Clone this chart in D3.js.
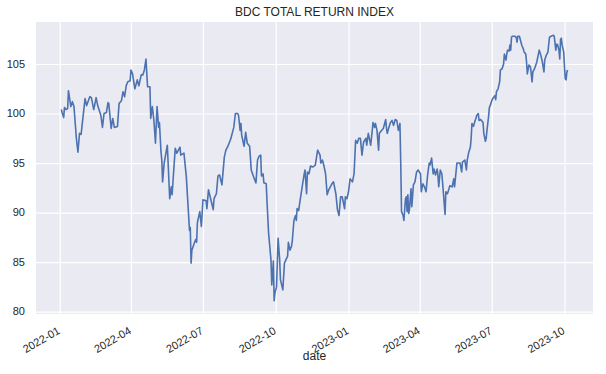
<!DOCTYPE html>
<html>
<head>
<meta charset="utf-8">
<script src="https://cdn.jsdelivr.net/npm/d3@7"></script>
<style>
  body { margin: 0; background: #fff; }
  text { font-family: "Liberation Sans", Arial, sans-serif; fill: #262626; }
</style>
</head>
<body>
<div id="chart"></div>
<script>
// data
var title = "BDC TOTAL RETURN INDEX";
var xLabel = "date";

var dates = [
  "2022-01-03","2022-01-04","2022-01-06","2022-01-07","2022-01-09","2022-01-11","2022-01-12","2022-01-15","2022-01-17","2022-01-19",
  "2022-01-22","2022-01-24","2022-01-26","2022-01-28","2022-02-02","2022-02-04","2022-02-08","2022-02-10","2022-02-13","2022-02-16",
  "2022-02-18","2022-02-22","2022-02-24","2022-02-26","2022-03-01","2022-03-03","2022-03-04","2022-03-07","2022-03-09","2022-03-11",
  "2022-03-15","2022-03-17","2022-03-20","2022-03-22","2022-03-24","2022-03-26","2022-03-28","2022-03-31","2022-04-01","2022-04-03",
  "2022-04-06","2022-04-09","2022-04-11","2022-04-14","2022-04-16","2022-04-18","2022-04-20","2022-04-22","2022-04-25","2022-04-26",
  "2022-04-28","2022-04-30","2022-05-02","2022-05-04","2022-05-06","2022-05-07","2022-05-09","2022-05-10","2022-05-11","2022-05-13",
  "2022-05-17","2022-05-20","2022-05-22","2022-05-23","2022-05-27","2022-05-29","2022-06-02","2022-06-03","2022-06-07","2022-06-10",
  "2022-06-12","2022-06-14","2022-06-15","2022-06-16","2022-06-17","2022-06-20","2022-06-22","2022-06-23","2022-06-24","2022-06-27",
  "2022-06-29","2022-07-01","2022-07-05","2022-07-06","2022-07-08","2022-07-11","2022-07-14","2022-07-15","2022-07-18","2022-07-20",
  "2022-07-22","2022-07-25","2022-07-28","2022-07-30","2022-08-01","2022-08-03","2022-08-05","2022-08-07","2022-08-09","2022-08-11",
  "2022-08-14","2022-08-15","2022-08-17","2022-08-18","2022-08-19","2022-08-22","2022-08-24","2022-08-26","2022-08-29","2022-08-30",
  "2022-08-31","2022-09-04","2022-09-06","2022-09-08","2022-09-10","2022-09-12","2022-09-13","2022-09-15","2022-09-16","2022-09-19",
  "2022-09-20","2022-09-22","2022-09-25","2022-09-26","2022-09-28","2022-09-29","2022-09-30","2022-10-02","2022-10-04","2022-10-06",
  "2022-10-07","2022-10-10","2022-10-12","2022-10-16","2022-10-17","2022-10-19","2022-10-21","2022-10-22","2022-10-24","2022-10-26",
  "2022-10-27","2022-10-28","2022-10-30","2022-10-31","2022-11-04","2022-11-06","2022-11-07","2022-11-09","2022-11-10","2022-11-12",
  "2022-11-14","2022-11-17","2022-11-20","2022-11-22","2022-11-23","2022-11-26","2022-11-27","2022-11-29","2022-12-01","2022-12-03",
  "2022-12-05","2022-12-07","2022-12-09","2022-12-11","2022-12-13","2022-12-16","2022-12-18","2022-12-20","2022-12-22","2022-12-24",
  "2022-12-27","2022-12-28","2022-12-30","2023-01-01","2023-01-03","2023-01-06","2023-01-08","2023-01-10","2023-01-12","2023-01-14",
  "2023-01-16","2023-01-18","2023-01-20","2023-01-23","2023-01-24","2023-01-26","2023-01-29","2023-01-31","2023-02-01","2023-02-03",
  "2023-02-04","2023-02-06","2023-02-08","2023-02-09","2023-02-12","2023-02-14","2023-02-17","2023-02-18","2023-02-19","2023-02-21",
  "2023-02-23","2023-02-25","2023-02-27","2023-03-01","2023-03-03","2023-03-05","2023-03-07","2023-03-08","2023-03-09","2023-03-11",
  "2023-03-12","2023-03-14","2023-03-15","2023-03-16","2023-03-17","2023-03-18","2023-03-19","2023-03-21","2023-03-22","2023-03-24",
  "2023-03-26","2023-03-28","2023-03-30","2023-04-02","2023-04-03","2023-04-05","2023-04-07","2023-04-09","2023-04-11","2023-04-13",
  "2023-04-14","2023-04-16","2023-04-18","2023-04-19","2023-04-21","2023-04-23","2023-04-24","2023-04-25","2023-04-27","2023-04-29",
  "2023-05-01","2023-05-03","2023-05-04","2023-05-06","2023-05-08","2023-05-09","2023-05-12","2023-05-14","2023-05-15","2023-05-18",
  "2023-05-20","2023-05-22","2023-05-24","2023-05-25","2023-05-28","2023-05-30","2023-05-31","2023-06-02","2023-06-04","2023-06-05",
  "2023-06-06","2023-06-08","2023-06-10","2023-06-11","2023-06-12","2023-06-14","2023-06-15","2023-06-17","2023-06-20","2023-06-21",
  "2023-06-23","2023-06-24","2023-06-25","2023-06-27","2023-06-28","2023-06-30","2023-07-01","2023-07-03","2023-07-05","2023-07-06",
  "2023-07-07","2023-07-09","2023-07-11","2023-07-12","2023-07-14","2023-07-16","2023-07-17","2023-07-19","2023-07-20","2023-07-21",
  "2023-07-23","2023-07-24","2023-07-25","2023-07-26","2023-07-27","2023-07-30","2023-08-01","2023-08-02","2023-08-03","2023-08-05",
  "2023-08-06","2023-08-08","2023-08-10","2023-08-11","2023-08-13","2023-08-14","2023-08-15","2023-08-17","2023-08-19","2023-08-21",
  "2023-08-22","2023-08-24","2023-08-27","2023-08-29","2023-08-30","2023-09-01","2023-09-03","2023-09-05","2023-09-06","2023-09-08",
  "2023-09-10","2023-09-12","2023-09-14","2023-09-17","2023-09-18","2023-09-20","2023-09-21","2023-09-22","2023-09-24","2023-09-25",
  "2023-09-26","2023-09-27","2023-09-28","2023-09-30","2023-10-01","2023-10-02","2023-10-03","2023-10-04","2023-10-05"
];

var values = [
  100.4,100.1,99.6,100.6,100.4,100.5,102.3,100.7,101.2,100.7,
  97.5,96.1,98.0,97.9,101.5,100.8,101.7,101.6,100.4,101.6,
  100.8,99.8,98.6,100.0,100.1,101.1,101.0,98.5,99.5,98.6,
  98.7,101.0,101.3,102.2,101.7,102.8,103.2,103.3,104.4,104.0,
  102.5,103.4,102.8,103.9,103.9,104.4,105.5,102.7,102.7,99.5,
  100.7,99.3,97.0,100.7,98.6,99.1,96.1,95.3,93.1,95.0,
  96.8,91.4,92.6,91.8,96.5,96.0,96.6,95.8,96.0,93.6,
  90.9,88.2,88.5,84.9,86.2,86.9,87.3,87.0,89.0,90.1,
  88.6,91.3,91.2,90.4,92.3,91.3,90.3,91.4,91.9,93.7,
  93.8,92.8,95.6,96.3,96.6,97.0,97.4,98.0,98.6,100.0,
  100.0,99.8,98.3,99.0,97.8,96.7,98.1,97.0,96.7,95.6,
  94.3,93.4,93.0,95.3,95.7,95.8,93.7,93.9,93.0,92.9,
  91.1,87.9,85.2,82.7,85.1,81.1,81.9,82.5,87.4,85.2,
  83.2,82.2,84.9,85.6,87.0,86.2,86.6,87.2,89.2,89.7,
  89.2,90.4,90.2,90.8,92.9,93.9,94.3,91.9,94.1,93.9,
  94.7,94.6,94.8,95.8,96.3,95.8,95.0,95.3,94.7,93.9,
  91.8,92.3,92.6,92.9,93.1,91.9,90.3,89.7,91.6,91.6,
  90.4,91.6,91.4,92.1,93.4,93.1,93.9,97.3,97.0,97.5,
  97.5,95.8,97.1,97.5,96.8,98.0,96.8,98.3,99.1,98.6,
  99.0,98.3,96.3,98.0,98.3,98.5,99.4,98.5,98.0,98.6,
  99.1,99.3,98.8,99.4,99.3,98.3,99.0,95.0,90.1,89.7,
  89.2,91.4,91.6,90.1,91.8,89.9,90.3,92.4,90.6,92.8,
  93.1,94.1,94.3,93.9,92.1,92.9,92.6,92.1,93.8,95.0,
  94.8,95.5,93.9,94.4,93.8,94.4,93.8,92.6,94.3,93.9,
  91.9,89.8,92.1,91.9,92.4,92.7,92.6,93.4,92.6,95.0,
  95.0,95.0,94.1,95.1,95.3,94.3,95.3,96.1,96.6,97.5,
  99.0,98.7,99.3,99.5,99.8,100.0,99.3,99.4,99.1,98.0,
  97.2,97.5,98.3,99.7,100.6,101.0,101.3,101.6,101.8,101.4,
  102.2,102.5,103.2,104.4,104.5,105.0,106.0,105.4,106.0,106.4,
  106.3,106.9,106.4,107.7,107.8,107.8,107.7,107.2,107.8,107.8,
  107.5,106.9,106.5,106.2,106.0,105.2,104.0,104.9,104.7,103.2,
  104.2,104.5,105.2,106.0,106.4,105.9,105.2,104.2,105.4,105.9,
  106.2,107.7,107.8,107.9,107.8,106.4,107.0,107.0,106.4,105.5,
  107.5,107.6,106.9,106.2,104.7,103.5,103.4,104.2,104.4
];

var yTicks = [80, 85, 90, 95, 100, 105];

var svgWidth = 606;
var svgHeight = 374;

var margin = {
  top: 22,
  right: 13,
  bottom: 60,
  left: 36
};

var width = svgWidth - margin.left - margin.right;
var height = svgHeight - margin.top - margin.bottom;

var parseDate = d3.timeParse("%Y-%m-%d");
var data = dates.map(function(d, i) {
  return { date: parseDate(d), value: values[i] };
});

var svg = d3.select("#chart")
  .append("svg")
  .attr("width", svgWidth)
  .attr("height", svgHeight);

var chartGroup = svg.append("g")
  .attr("transform", `translate(${margin.left}, ${margin.top})`);

// matplotlib style 5% padding on both axes
var xExtent = d3.extent(data, d => d.date);
var xPad = (xExtent[1] - xExtent[0]) * 0.05;
var xScale = d3.scaleTime()
  .domain([new Date(+xExtent[0] - xPad), new Date(+xExtent[1] + xPad)])
  .range([0, width]);

var yExtent = d3.extent(data, d => d.value);
var yPad = (yExtent[1] - yExtent[0]) * 0.05;
var yScale = d3.scaleLinear()
  .domain([yExtent[0] - yPad, yExtent[1] + yPad])
  .range([height, 0]);

// background
chartGroup.append("rect")
  .attr("width", width)
  .attr("height", height)
  .attr("fill", "#EAEAF2");

var xTicks = xScale.ticks(d3.timeMonth.every(3));

// grid lines
chartGroup.append("g")
  .call(d3.axisLeft(yScale).tickValues(yTicks).tickSize(-width).tickFormat(""))
  .call(g => g.select(".domain").remove())
  .selectAll("line")
  .attr("stroke", "#fff")
  .attr("stroke-width", 1.2);

chartGroup.append("g")
  .attr("transform", `translate(0, ${height})`)
  .call(d3.axisBottom(xScale).tickValues(xTicks).tickSize(height).tickFormat(""))
  .call(g => g.select(".domain").remove())
  .selectAll("line")
  .attr("stroke", "#fff")
  .attr("stroke-width", 1.2)
  .attr("y2", -height);

// line
var line = d3.line()
  .x(d => xScale(d.date))
  .y(d => yScale(d.value));

chartGroup.append("path")
  .datum(data)
  .attr("fill", "none")
  .attr("stroke", "#4C72B0")
  .attr("stroke-width", 1.6)
  .attr("stroke-linejoin", "round")
  .attr("d", line);

// y tick labels
chartGroup.selectAll(".ylab")
  .data(yTicks)
  .enter()
  .append("text")
  .attr("class", "ylab")
  .attr("x", -11)
  .attr("y", d => yScale(d))
  .attr("dy", "0.35em")
  .attr("text-anchor", "end")
  .attr("font-size", "11px")
  .text(d => d);

// x tick labels, rotated like autofmt_xdate
var fmt = d3.timeFormat("%Y-%m");
chartGroup.selectAll(".xlab")
  .data(xTicks)
  .enter()
  .append("text")
  .attr("class", "xlab")
  .attr("text-anchor", "end")
  .attr("font-size", "11px")
  .attr("transform", d => `translate(${xScale(d) + 1}, ${height + 19}) rotate(-30)`)
  .text(d => fmt(d));

// axis label
chartGroup.append("text")
  .attr("x", width / 2)
  .attr("y", height + 46)
  .attr("text-anchor", "middle")
  .attr("font-size", "12px")
  .text(xLabel);

// title
svg.append("text")
  .attr("x", margin.left + width / 2)
  .attr("y", 16)
  .attr("text-anchor", "middle")
  .attr("font-size", "12px")
  .text(title);
</script>
</body>
</html>
